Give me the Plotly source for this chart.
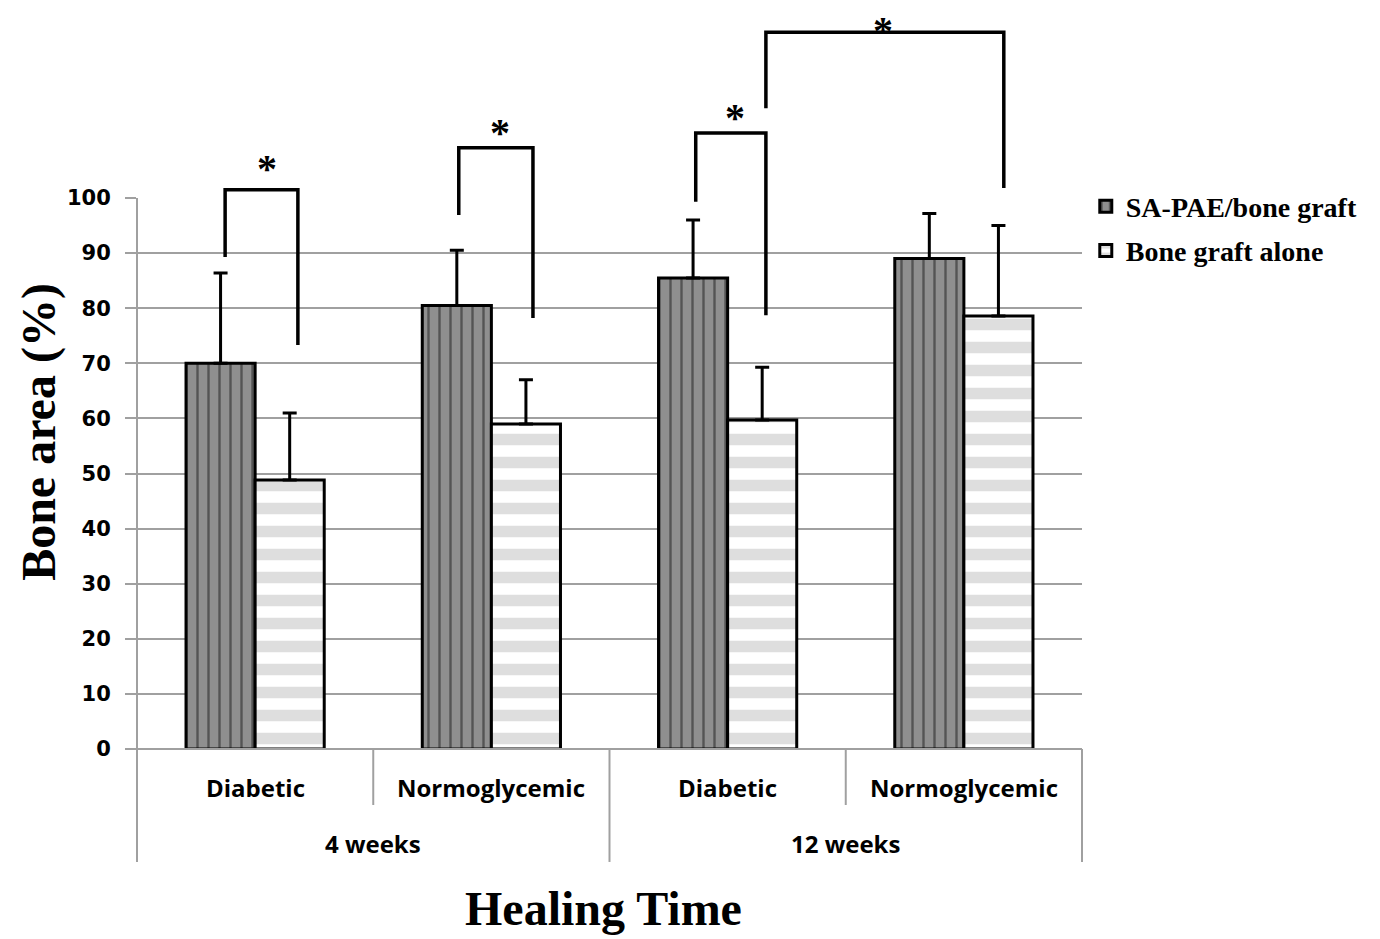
import plotly.graph_objects as go

# ---------------- data ----------------
groups = ["Diabetic", "Normoglycemic", "Diabetic", "Normoglycemic"]
times = ["4 weeks", "12 weeks"]
series_names = ["SA-PAE/bone graft", "Bone graft alone"]
sapae = [70.0, 80.5, 85.5, 89.0]
sapae_err = [16.4, 10.0, 10.5, 8.2]
alone = [48.8, 59.0, 59.7, 78.6]
alone_err = [12.2, 8.0, 9.6, 16.4]
y_ticks = list(range(0, 101, 10))

# significance brackets: left x, right x (category units), top, left-leg end, right-leg end (y units)
br_left = [-0.127, 0.862, 1.865, 2.162]
br_right = [0.181, 1.176, 2.162, 3.169]
br_top = [101.5, 109.1, 111.8, 130.1]
br_left_end = [89.3, 96.9, 99.3, 116.3]
br_right_end = [73.3, 78.2, 78.7, 101.8]
star_x = [0.05, 1.036, 2.032, 2.657]
star_y = [106.8, 113.3, 116.1, 131.9]

xs = list(range(len(groups)))
X0, X1 = -0.5, len(groups) - 0.5


def xp(c):
    return (c - X0) / (X1 - X0)


def yp(v):
    return v / 100.0


fig = go.Figure()
fig.add_trace(go.Bar(
    x=xs, y=sapae, name=series_names[0], legendgroup="a",
    marker=dict(color="#8f8f8f", line=dict(color="black", width=3),
                pattern=dict(shape="|", fgcolor="#1a1a1a", bgcolor="#8f8f8f",
                             size=11, solidity=0.22)),
    error_y=dict(type="data", symmetric=False, array=sapae_err,
                 arrayminus=[0] * 4, color="black", thickness=3, width=7),
))
fig.add_trace(go.Bar(
    x=xs, y=alone, name=series_names[1], legendgroup="b",
    marker=dict(color="white", line=dict(color="black", width=3),
                pattern=dict(shape="-", fgcolor="#bdbdbd", bgcolor="white",
                             size=23, solidity=0.5)),
    error_y=dict(type="data", symmetric=False, array=alone_err,
                 arrayminus=[0] * 4, color="black", thickness=3, width=7),
))

shapes = []
grey = "#a0a0a0"
# y axis line (extends into the category area)
shapes.append(dict(type="line", xref="paper", yref="paper", x0=0, x1=0,
                   y0=1, y1=-0.205, line=dict(color=grey, width=2)))
# x axis line
shapes.append(dict(type="line", xref="paper", yref="paper", x0=0, x1=1,
                   y0=0, y1=0, line=dict(color=grey, width=2)))
# dividers
for i in range(1, len(groups) + 1):
    bottom = -0.205 if i % 2 == 0 else -0.1016
    shapes.append(dict(type="line", xref="paper", yref="paper",
                       x0=xp(i - 0.5), x1=xp(i - 0.5), y0=0, y1=bottom,
                       line=dict(color=grey, width=2)))
# brackets
for l, r, t, le, re in zip(br_left, br_right, br_top, br_left_end, br_right_end):
    shapes.append(dict(type="path", xref="paper", yref="paper",
                       path=f"M{xp(l)},{yp(le)} L{xp(l)},{yp(t)} L{xp(r)},{yp(t)} L{xp(r)},{yp(re)}",
                       line=dict(color="black", width=3.5)))

annotations = []
for sx, sy in zip(star_x, star_y):
    annotations.append(dict(text="<b>*</b>", xref="paper", yref="paper",
                            x=xp(sx), y=yp(sy), yshift=-8, showarrow=False,
                            font=dict(family="Liberation Serif", size=40, color="black"),
                            xanchor="center", yanchor="middle"))
for i, g in enumerate(groups):
    annotations.append(dict(text=g, xref="paper", yref="paper", x=xp(i), y=-0.069,
                            showarrow=False, xanchor="center", yanchor="middle",
                            font=dict(family="Open Sans", size=24, color="black", weight="bold")))
for j, t in enumerate(times):
    annotations.append(dict(text=t, xref="paper", yref="paper", x=xp(2 * j + 0.5), y=-0.171,
                            showarrow=False, xanchor="center", yanchor="middle",
                            font=dict(family="Open Sans", size=24, color="black", weight="bold")))
annotations.append(dict(text="<b>Healing Time</b>", xref="paper", yref="paper",
                        x=0.494, y=-0.29, showarrow=False, xanchor="center",
                        yanchor="middle",
                        font=dict(family="Liberation Serif", size=48, color="black")))
annotations.append(dict(text="<b>Bone area (%)</b>", xref="paper", yref="paper",
                        x=-0.103, y=0.575, textangle=-90, showarrow=False,
                        xanchor="center", yanchor="middle",
                        font=dict(family="Liberation Serif", size=48, color="black")))

# page body has an 8px margin, so the figure is sized to fit the window
fig.update_layout(
    width=1372, height=931,
    margin=dict(l=129, r=298, t=190, b=190),
    paper_bgcolor="white", plot_bgcolor="white",
    barmode="group", bargap=0.415, bargroupgap=0,
    showlegend=True,
    legend=dict(x=1.004, y=1.03, xanchor="left", yanchor="top",
                traceorder="grouped", tracegroupgap=5,
                font=dict(family="Liberation Serif", size=28, color="black", weight="bold"),
                itemwidth=30, bgcolor="rgba(0,0,0,0)"),
    xaxis=dict(range=[X0, X1], showticklabels=False, showgrid=False,
               zeroline=False, showline=False, ticks=""),
    yaxis=dict(range=[0, 100], tickvals=y_ticks, showgrid=True,
               gridcolor=grey, gridwidth=2, zeroline=False, showline=False,
               ticks="outside", ticklen=11, tickwidth=2, tickcolor=grey,
               ticklabelstandoff=10,
               tickfont=dict(family="DejaVu Sans", size=21, color="black", weight="bold")),
    shapes=shapes, annotations=annotations,
)

fig.write_html("out.html")
